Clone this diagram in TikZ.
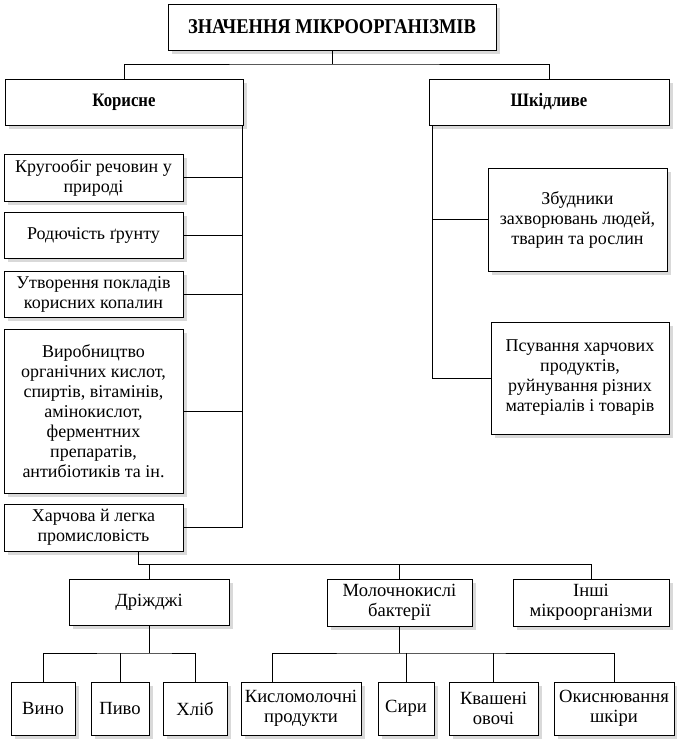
\documentclass[tikz,border=0pt]{standalone}
\usepackage{fontspec}
\setmainfont{Liberation Serif}
\newfontfamily\boldnarrow{Liberation Serif}[FakeStretch=0.88]
\usetikzlibrary{shadows}

\begin{document}
\begin{tikzpicture}[x=1pt,y=-1pt,line width=0.9pt,
  box/.style={draw=black,fill=white,align=center,inner sep=0pt,
    drop shadow={shadow xshift=4pt,shadow yshift=-4pt,opacity=1,fill=black!15}},
  head/.style={box,font=\boldnarrow\bfseries\fontsize{19}{22}\selectfont},
  item/.style={box,font=\fontsize{18}{20}\selectfont},
  low/.style={box,font=\fontsize{18.6}{20}\selectfont}]
\useasboundingbox (0,0) rectangle (677,739);
\node[head,font=\boldnarrow\bfseries\fontsize{21}{24}\selectfont,minimum width=328,minimum height=46] (title) at (332,27) {ЗНАЧЕННЯ МІКРООРГАНІЗМІВ};
\node[head,minimum width=238,minimum height=46] (kor) at (124,102) {Корисне};
\node[head,minimum width=240,minimum height=46] (shk) at (549,102) {Шкідливе};
\node[item,minimum width=179,minimum height=47] (krug) at (93.5,177.5) {Кругообіг речовин у\\природі};
\node[item,minimum width=179,minimum height=46] (rod) at (93.5,235) {Родючість ґрунту};
\node[item,minimum width=179,minimum height=46] (utv) at (93.5,294) {Утворення покладів\\корисних копалин};
\node[item,minimum width=179,minimum height=164] (vyr) at (93.5,411) {Виробництво\\органічних кислот,\\спиртів, вітамінів,\\амінокислот,\\ферментних\\препаратів,\\антибіотиків та ін.};
\node[item,minimum width=179,minimum height=47] (khar) at (93.5,527.5) {Харчова й легка\\промисловість};
\node[item,minimum width=179,minimum height=103] (zbud) at (577.5,219.5) {Збудники\\захворювань людей,\\тварин та рослин};
\node[item,minimum width=178,minimum height=112] (psuv) at (580,378) {Псування харчових\\продуктів,\\руйнування різних\\матеріалів і товарів};
\node[low,minimum width=160,minimum height=46] (drizh) at (149,602) {Дріжджі};
\node[low,minimum width=145,minimum height=47] (molo) at (399.5,602.5) {Молочнокислі\\бактерії};
\node[low,minimum width=156,minimum height=47] (inshi) at (591,602.5) {Інші\\мікроорганізми};
\node[low,minimum width=64,minimum height=53] (vyno) at (43,708.5) {Вино};
\node[low,minimum width=58,minimum height=53] (pyvo) at (120,708.5) {Пиво};
\node[low,minimum width=64,minimum height=53] (khlib) at (195,708.5) {Хліб};
\node[low,minimum width=120,minimum height=53] (kysl) at (301,708.5) {Кисломолочні\\продукти};
\node[low,minimum width=56,minimum height=53] (syry) at (406,708.5) {Сири};
\node[low,minimum width=89,minimum height=53] (kvash) at (493.5,708.5) {Квашені\\овочі};
\node[low,minimum width=120,minimum height=53] (okysn) at (614,708.5) {Окиснювання\\шкіри};
\coordinate (tb) at (332,64);
\draw (title.south) -- (tb);
\draw (kor.north) |- (tb) -| (shk.north);
\coordinate (kb) at (242,125);
\draw (kb) |- (khar.east);
\foreach \n in {krug,rod,utv,vyr} \draw (\n.east) -| (kb);
\coordinate (sb) at (432,125);
\draw (sb) |- (psuv.west);
\draw (zbud.west) -| (sb);
\coordinate (hb) at (138,564);
\draw (khar.south -| hb) -- (hb) -| (inshi.north);
\foreach \n in {drizh,molo} \draw (\n.north |- hb) -- (\n.north);
\coordinate (db) at (149,653);
\draw (drizh.south) -- (db);
\draw (vyno.north) |- (db) -| (khlib.north);
\draw (pyvo.north) -- (pyvo.north |- db);
\coordinate (mb) at (399.5,653);
\coordinate (kin) at (272,682);
\draw (molo.south) -- (mb);
\draw (kin) |- (mb) -| (okysn.north);
\foreach \n in {syry,kvash} \draw (\n.north) -- (\n.north |- mb);
\end{tikzpicture}
\end{document}
